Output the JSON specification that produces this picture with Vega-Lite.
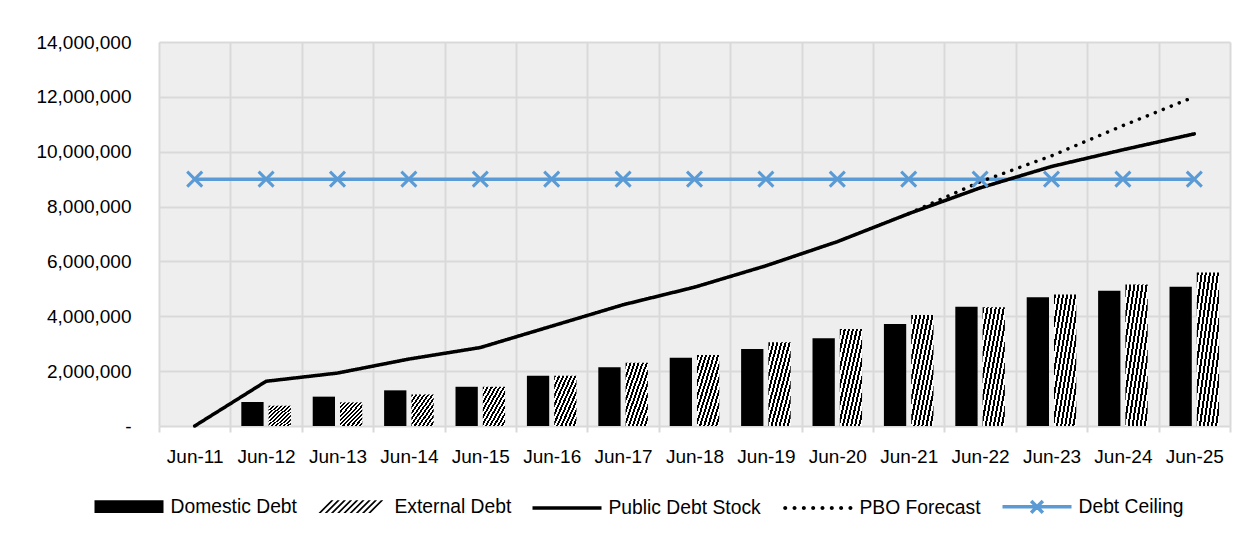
{
  "$schema": "https://vega.github.io/schema/vega-lite/v6.json",
  "width": 1071,
  "height": 384,
  "autosize": {"type": "none"},
  "padding": {"left": 159, "top": 42, "right": 19, "bottom": 111},
  "background": "white",
  "config": {
    "font": "Liberation Sans",
    "view": {"fill": "#eeeeee", "stroke": null},
    "axis": {"labelFont": "Liberation Sans", "labelFontSize": 19, "labelColor": "#000000", "gridColor": "#d9d9d9", "gridWidth": 2, "domain": false, "title": null},
    "legend": {"labelFont": "Liberation Sans", "labelFontSize": 19.3, "labelColor": "#000000"}
  },
  "data": {
    "values": [
      {"year": "Jun-11", "series": "Debt Ceiling", "value": 9000000},
      {"year": "Jun-12", "series": "Debt Ceiling", "value": 9000000},
      {"year": "Jun-13", "series": "Debt Ceiling", "value": 9000000},
      {"year": "Jun-14", "series": "Debt Ceiling", "value": 9000000},
      {"year": "Jun-15", "series": "Debt Ceiling", "value": 9000000},
      {"year": "Jun-16", "series": "Debt Ceiling", "value": 9000000},
      {"year": "Jun-17", "series": "Debt Ceiling", "value": 9000000},
      {"year": "Jun-18", "series": "Debt Ceiling", "value": 9000000},
      {"year": "Jun-19", "series": "Debt Ceiling", "value": 9000000},
      {"year": "Jun-20", "series": "Debt Ceiling", "value": 9000000},
      {"year": "Jun-21", "series": "Debt Ceiling", "value": 9000000},
      {"year": "Jun-22", "series": "Debt Ceiling", "value": 9000000},
      {"year": "Jun-23", "series": "Debt Ceiling", "value": 9000000},
      {"year": "Jun-24", "series": "Debt Ceiling", "value": 9000000},
      {"year": "Jun-25", "series": "Debt Ceiling", "value": 9000000},
      {"year": "Jun-11", "series": "Public Debt Stock", "value": 0},
      {"year": "Jun-12", "series": "Public Debt Stock", "value": 1630000},
      {"year": "Jun-13", "series": "Public Debt Stock", "value": 1930000},
      {"year": "Jun-14", "series": "Public Debt Stock", "value": 2440000},
      {"year": "Jun-15", "series": "Public Debt Stock", "value": 2860000},
      {"year": "Jun-16", "series": "Public Debt Stock", "value": 3640000},
      {"year": "Jun-17", "series": "Public Debt Stock", "value": 4420000},
      {"year": "Jun-18", "series": "Public Debt Stock", "value": 5060000},
      {"year": "Jun-19", "series": "Public Debt Stock", "value": 5840000},
      {"year": "Jun-20", "series": "Public Debt Stock", "value": 6720000},
      {"year": "Jun-21", "series": "Public Debt Stock", "value": 7740000},
      {"year": "Jun-22", "series": "Public Debt Stock", "value": 8680000},
      {"year": "Jun-23", "series": "Public Debt Stock", "value": 9460000},
      {"year": "Jun-24", "series": "Public Debt Stock", "value": 10070000},
      {"year": "Jun-25", "series": "Public Debt Stock", "value": 10650000},
      {"year": "Jun-21", "series": "PBO Forecast", "value": 7740000},
      {"year": "Jun-22", "series": "PBO Forecast", "value": 8900000},
      {"year": "Jun-23", "series": "PBO Forecast", "value": 9850000},
      {"year": "Jun-24", "series": "PBO Forecast", "value": 10950000},
      {"year": "Jun-25", "series": "PBO Forecast", "value": 12000000},
      {"year": "Jun-12", "series": "Domestic Debt", "value": 875000},
      {"year": "Jun-13", "series": "Domestic Debt", "value": 1070000},
      {"year": "Jun-14", "series": "Domestic Debt", "value": 1300000},
      {"year": "Jun-15", "series": "Domestic Debt", "value": 1430000},
      {"year": "Jun-16", "series": "Domestic Debt", "value": 1830000},
      {"year": "Jun-17", "series": "Domestic Debt", "value": 2140000},
      {"year": "Jun-18", "series": "Domestic Debt", "value": 2490000},
      {"year": "Jun-19", "series": "Domestic Debt", "value": 2810000},
      {"year": "Jun-20", "series": "Domestic Debt", "value": 3200000},
      {"year": "Jun-21", "series": "Domestic Debt", "value": 3720000},
      {"year": "Jun-22", "series": "Domestic Debt", "value": 4350000},
      {"year": "Jun-23", "series": "Domestic Debt", "value": 4690000},
      {"year": "Jun-24", "series": "Domestic Debt", "value": 4930000},
      {"year": "Jun-25", "series": "Domestic Debt", "value": 5080000},
      {"year": "Jun-12", "series": "External Debt", "value": 740000},
      {"year": "Jun-13", "series": "External Debt", "value": 860000},
      {"year": "Jun-14", "series": "External Debt", "value": 1150000},
      {"year": "Jun-15", "series": "External Debt", "value": 1430000},
      {"year": "Jun-16", "series": "External Debt", "value": 1830000},
      {"year": "Jun-17", "series": "External Debt", "value": 2310000},
      {"year": "Jun-18", "series": "External Debt", "value": 2590000},
      {"year": "Jun-19", "series": "External Debt", "value": 3050000},
      {"year": "Jun-20", "series": "External Debt", "value": 3540000},
      {"year": "Jun-21", "series": "External Debt", "value": 4050000},
      {"year": "Jun-22", "series": "External Debt", "value": 4330000},
      {"year": "Jun-23", "series": "External Debt", "value": 4790000},
      {"year": "Jun-24", "series": "External Debt", "value": 5160000},
      {"year": "Jun-25", "series": "External Debt", "value": 5600000}
    ]
  },
  "encoding": {
    "x": {
      "field": "year", "type": "nominal", "sort": null,
      "scale": {"domain": ["Jun-11","Jun-12","Jun-13","Jun-14","Jun-15","Jun-16","Jun-17","Jun-18","Jun-19","Jun-20","Jun-21","Jun-22","Jun-23","Jun-24","Jun-25"], "paddingInner": 0, "paddingOuter": 0},
      "axis": {"labelAngle": 0, "tickBand": "extent", "grid": true, "ticks": true, "tickColor": "#d9d9d9", "tickWidth": 2, "tickSize": 6, "labelPadding": 15, "labelBaseline": "top"}
    },
    "y": {
      "field": "value", "type": "quantitative",
      "scale": {"domain": [0, 14000000], "nice": false},
      "axis": {"values": [0, 2000000, 4000000, 6000000, 8000000, 10000000, 12000000, 14000000], "ticks": false, "labelPadding": 28, "labelExpr": "datum.value === 0 ? '-\u00a0\u00a0' : format(datum.value, ',')"}
    }
  },
  "layer": [
    {
      "transform": [{"filter": "datum.series === 'Domestic Debt' || datum.series === 'External Debt'"}],
      "mark": {"type": "bar"},
      "encoding": {
        "xOffset": {"field": "series", "type": "nominal", "sort": ["Domestic Debt", "External Debt"], "scale": {"paddingInner": 0.183, "paddingOuter": 0.4}},
        "fill": {
          "value": {"expr": "datum.series === 'External Debt' ? {gradient: 'linear', x1: 0, y1: 0, x2: 1, y2: 1, stops: [{offset: 0, color: 'black'}, {offset: 0.0455, color: 'black'}, {offset: 0.0455, color: 'white'}, {offset: 0.0909, color: 'white'}, {offset: 0.0909, color: 'black'}, {offset: 0.1364, color: 'black'}, {offset: 0.1364, color: 'white'}, {offset: 0.1818, color: 'white'}, {offset: 0.1818, color: 'black'}, {offset: 0.2273, color: 'black'}, {offset: 0.2273, color: 'white'}, {offset: 0.2727, color: 'white'}, {offset: 0.2727, color: 'black'}, {offset: 0.3182, color: 'black'}, {offset: 0.3182, color: 'white'}, {offset: 0.3636, color: 'white'}, {offset: 0.3636, color: 'black'}, {offset: 0.4091, color: 'black'}, {offset: 0.4091, color: 'white'}, {offset: 0.4545, color: 'white'}, {offset: 0.4545, color: 'black'}, {offset: 0.5, color: 'black'}, {offset: 0.5, color: 'white'}, {offset: 0.5455, color: 'white'}, {offset: 0.5455, color: 'black'}, {offset: 0.5909, color: 'black'}, {offset: 0.5909, color: 'white'}, {offset: 0.6364, color: 'white'}, {offset: 0.6364, color: 'black'}, {offset: 0.6818, color: 'black'}, {offset: 0.6818, color: 'white'}, {offset: 0.7273, color: 'white'}, {offset: 0.7273, color: 'black'}, {offset: 0.7727, color: 'black'}, {offset: 0.7727, color: 'white'}, {offset: 0.8182, color: 'white'}, {offset: 0.8182, color: 'black'}, {offset: 0.8636, color: 'black'}, {offset: 0.8636, color: 'white'}, {offset: 0.9091, color: 'white'}, {offset: 0.9091, color: 'black'}, {offset: 0.9545, color: 'black'}, {offset: 0.9545, color: 'white'}, {offset: 1, color: 'white'}]} : 'black'"}
        }
      }
    },
    {
      "transform": [{"filter": "datum.series === 'Public Debt Stock' || datum.series === 'PBO Forecast' || datum.series === 'Debt Ceiling'"}],
      "mark": {"type": "line", "strokeWidth": 3.5, "strokeCap": "round", "strokeJoin": "round"},
      "encoding": {
        "color": {
          "field": "series", "type": "nominal", "legend": null,
          "scale": {"domain": ["Debt Ceiling", "Public Debt Stock", "PBO Forecast"], "range": ["#5B9BD5", "#000000", "#000000"]}
        },
        "strokeDash": {
          "condition": {"test": "datum.series === 'PBO Forecast'", "value": [0.1, 8.5]},
          "value": [1, 0]
        }
      }
    },
    {
      "transform": [{"filter": "datum.series === 'Debt Ceiling'"}],
      "mark": {"type": "point", "shape": "M-1,-1L1,1M-1,1L1,-1", "filled": false, "stroke": "#5B9BD5", "strokeWidth": 3, "size": 225, "opacity": 1},
      "encoding": {}
    },
    {
      "transform": [{"filter": "datum.series === 'Debt Ceiling'"}],
      "mark": {"type": "point", "opacity": 0, "strokeWidth": 3.5},
      "encoding": {
        "fill": {
          "field": "series", "type": "nominal",
          "scale": {"domain": ["Domestic Debt", "External Debt", "Public Debt Stock", "PBO Forecast", "Debt Ceiling"], "range": ["#000000", "#000000", "transparent", "#000000", "transparent"]},
          "legend": {"orient": "none", "legendX": -66.5, "legendY": 428, "direction": "horizontal", "title": null, "symbolSize": 4761, "symbolStrokeWidth": 3.5, "symbolOpacity": 1, "labelOffset": 5, "columnPadding": 14, "labelLimit": 0}
        },
        "stroke": {
          "field": "series", "type": "nominal",
          "scale": {"domain": ["Domestic Debt", "External Debt", "Public Debt Stock", "PBO Forecast", "Debt Ceiling"], "range": ["transparent", "transparent", "#000000", "transparent", "#5B9BD5"]},
          "legend": {"orient": "none", "legendX": -66.5, "legendY": 428, "direction": "horizontal", "title": null, "symbolSize": 4761, "symbolStrokeWidth": 3.5, "symbolOpacity": 1, "labelOffset": 5, "columnPadding": 14, "labelLimit": 0}
        },
        "shape": {
          "field": "series", "type": "nominal",
          "scale": {"domain": ["Domestic Debt", "External Debt", "Public Debt Stock", "PBO Forecast", "Debt Ceiling"], "range": [
            "M-1,-0.184H1V0.184H-1Z",
            "M-1,0.184L-0.632,-0.184L-0.562,-0.184L-0.93,0.184ZM-0.82,0.184L-0.452,-0.184L-0.382,-0.184L-0.75,0.184ZM-0.64,0.184L-0.272,-0.184L-0.202,-0.184L-0.57,0.184ZM-0.46,0.184L-0.092,-0.184L-0.022,-0.184L-0.39,0.184ZM-0.28,0.184L0.088,-0.184L0.158,-0.184L-0.21,0.184ZM-0.1,0.184L0.268,-0.184L0.338,-0.184L-0.03,0.184ZM0.08,0.184L0.448,-0.184L0.518,-0.184L0.15,0.184ZM0.26,0.184L0.628,-0.184L0.698,-0.184L0.33,0.184ZM0.44,0.184L0.808,-0.184L0.878,-0.184L0.51,0.184Z",
            "M-1,0H1",
            "M-1.008,0a0.058,0.058 0 1,0 0.116,0a0.058,0.058 0 1,0 -0.116,0ZM-0.738,0a0.058,0.058 0 1,0 0.116,0a0.058,0.058 0 1,0 -0.116,0ZM-0.468,0a0.058,0.058 0 1,0 0.116,0a0.058,0.058 0 1,0 -0.116,0ZM-0.198,0a0.058,0.058 0 1,0 0.116,0a0.058,0.058 0 1,0 -0.116,0ZM0.072,0a0.058,0.058 0 1,0 0.116,0a0.058,0.058 0 1,0 -0.116,0ZM0.342,0a0.058,0.058 0 1,0 0.116,0a0.058,0.058 0 1,0 -0.116,0ZM0.612,0a0.058,0.058 0 1,0 0.116,0a0.058,0.058 0 1,0 -0.116,0ZM0.882,0a0.058,0.058 0 1,0 0.116,0a0.058,0.058 0 1,0 -0.116,0Z",
            "M-1,0H1M-0.17,-0.17L0.17,0.17M-0.17,0.17L0.17,-0.17"
          ]},
          "legend": {"orient": "none", "legendX": -66.5, "legendY": 428, "direction": "horizontal", "title": null, "symbolSize": 4761, "symbolStrokeWidth": 3.5, "symbolOpacity": 1, "labelOffset": 5, "columnPadding": 14, "labelLimit": 0}
        }
      }
    }
  ]
}
